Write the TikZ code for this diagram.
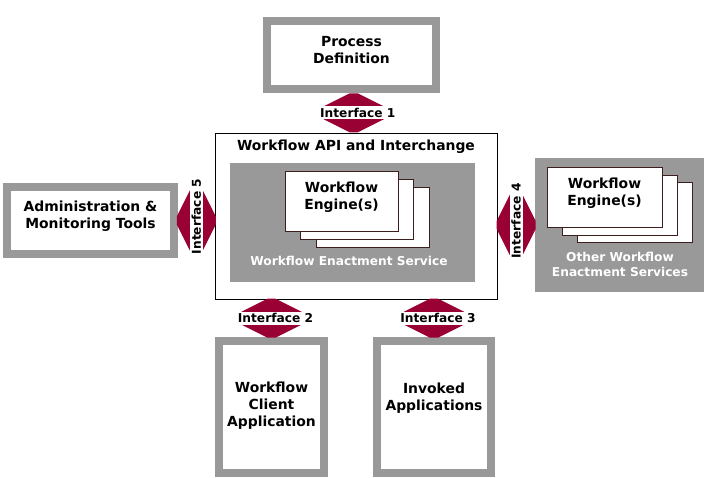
\documentclass[tikz,border=0pt]{standalone}
\usepackage{fontspec}
\setmainfont{DejaVu Sans}
\usetikzlibrary{calc}
\definecolor{ifred}{RGB}{153,0,51}
\definecolor{framegray}{RGB}{153,153,153}
\definecolor{engline}{RGB}{60,30,30}
\tikzset{
  every node/.style={font=\fontsize{13.9}{17}\selectfont\bfseries},
  txt/.style={align=center, inner sep=0pt},
  wtxt/.style={txt, white, font=\fontsize{12.2}{15}\selectfont\bfseries},
  frame/.style={draw=framegray, line width=8pt, fill=white, inner sep=0pt},
  service/.style={fill=framegray, inner sep=0pt},
  engine/.style={draw=engline, line width=1pt, fill=white, inner sep=0pt, minimum width=113pt, minimum height=60pt},
  iflab/.style={fill=white, inner xsep=1pt, inner ysep=0pt, minimum height=13pt, font=\fontsize{12.2}{14}\selectfont\bfseries},
  pics/iface/.style={code={
    \fill[ifred] (-4,-19.5) -- (4,-19.5) -- (30,-6.5) -- (30,6.5) -- (4,19.5) -- (-4,19.5) -- (-30,6.5) -- (-30,-6.5) -- cycle;
    \node[iflab] (-lab) at (4,0) {#1};
  }}
}
\begin{document}
\begin{tikzpicture}[x=1pt, y=-1pt, line join=miter]
  \useasboundingbox (0,0) rectangle (715,478);
  % outer boxes
  \node[frame, minimum width=169pt, minimum height=68pt] (pd) at (351.5,55) {};
  \node[txt] (pdtxt) at ([yshift=4.5pt]pd.center) {Process\\Definition};
  \node[frame, minimum width=167pt, minimum height=67pt] (admin) at (90.5,220.5) {};
  \node[txt] (admintxt) at ([yshift=4.5pt]admin.center) {Administration \&\\Monitoring Tools};
  \node[frame, minimum width=105pt, minimum height=132pt] (client) at (271.5,407) {};
  \node[txt] (clienttxt) at ([yshift=1pt]client.center) {Workflow\\Client\\Application};
  \node[frame, minimum width=114pt, minimum height=132pt] (invoked) at (434,407) {};
  \node[txt] (invokedtxt) at ([yshift=9pt]invoked.center) {Invoked\\Applications};
  % workflow API and enactment service
  \node[draw, line width=0.9pt, inner sep=0pt, minimum width=282pt, minimum height=166pt] (api) at (356,216) {};
  \node[txt] (apitxt) at (356,147) {Workflow API and Interchange};
  \node[service, minimum width=245pt, minimum height=119pt] (wes) at (352.5,222.5) {};
  \node[engine] (e3) at (372.5,217.5) {};
  \node[engine] (e2) at (356.5,210) {};
  \node[engine] (e1) at (341.5,202) {};
  \node[txt] (e1txt) at ([yshift=5pt]e1.center) {Workflow\\Engine(s)};
  \node[wtxt] (westxt) at (349,261) {Workflow Enactment Service};
  % other enactment services
  \node[service, minimum width=169pt, minimum height=134pt] (other) at (619.5,225) {};
  \node[engine, minimum width=115pt] (o3) at (635,213) {};
  \node[engine, minimum width=115pt] (o2) at (619.5,206) {};
  \node[engine, minimum width=115pt] (o1) at (604.5,198) {};
  \node[txt] (o1txt) at ([yshift=4.5pt]o1.center) {Workflow\\Engine(s)};
  \node[wtxt] (othertxt) at (620,264.5) {Other Workflow\\Enactment Services};
  % interfaces
  \pic (if1) at ($(pd.south)!.5!(api.north)$) {iface={Interface 1}};
  \pic (if2) at ($(client.north|-api.south)!.5!(client.north)$) {iface={Interface 2}};
  \pic (if3) at ($(invoked.north|-api.south)!.5!(invoked.north)$) {iface={Interface 3}};
  \pic[rotate=90, transform shape] (if4) at ($(api.east|-other.west)!.5!(other.west)$) {iface={Interface 4}};
  \pic[rotate=90, transform shape] (if5) at ($(admin.east)!.5!(admin.east-|api.west)$) {iface={Interface 5}};
\end{tikzpicture}
\end{document}
